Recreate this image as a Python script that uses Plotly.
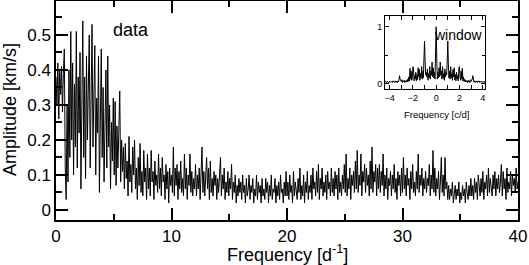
import numpy as np
import plotly.graph_objects as go

# Main amplitude spectrum, sampled every 0.08 d^-1 from 0 to 40
freq_step = 0.08
amplitude = [
    0.38, 0.30, 0.42, 0.26, 0.40, 0.33, 0.41, 0.28, 0.39, 0.46, 0.12, 0.03, 0.30, 0.08, 0.40, 0.15, 0.51, 0.20, 0.42, 0.10, 0.36, 0.18, 0.51, 0.12, 0.38,
    0.22, 0.45, 0.06, 0.30, 0.54, 0.15, 0.38, 0.09, 0.44, 0.20, 0.33, 0.50, 0.12, 0.40, 0.53, 0.18, 0.36, 0.47, 0.10, 0.32, 0.22, 0.44, 0.05, 0.30, 0.46,
    0.15, 0.35, 0.08, 0.28, 0.40, 0.12, 0.44, 0.18, 0.30, 0.06, 0.25, 0.14, 0.32, 0.10, 0.31, 0.07, 0.24, 0.12, 0.22, 0.34, 0.08, 0.20, 0.11, 0.18, 0.06,
    0.19, 0.09, 0.14, 0.04, 0.21, 0.08, 0.13, 0.05, 0.18, 0.10, 0.20, 0.06, 0.12, 0.03, 0.15, 0.07, 0.19, 0.05, 0.11, 0.04, 0.17, 0.08, 0.12, 0.03, 0.16,
    0.06, 0.12, 0.04, 0.17, 0.08, 0.11, 0.03, 0.14, 0.07, 0.10, 0.05, 0.16, 0.06, 0.12, 0.04, 0.15, 0.08, 0.10, 0.03, 0.13, 0.06, 0.11, 0.02, 0.12, 0.07,
    0.10, 0.05, 0.18, 0.04, 0.12, 0.07, 0.13, 0.03, 0.11, 0.06, 0.14, 0.05, 0.09, 0.04, 0.16, 0.06, 0.12, 0.03, 0.10, 0.07, 0.16, 0.05, 0.11, 0.04, 0.09,
    0.06, 0.13, 0.04, 0.10, 0.06, 0.12, 0.03, 0.09, 0.18, 0.05, 0.11, 0.04, 0.10, 0.15, 0.06, 0.12, 0.03, 0.14, 0.05, 0.09, 0.04, 0.11, 0.07, 0.10, 0.03,
    0.09, 0.05, 0.11, 0.15, 0.04, 0.10, 0.06, 0.12, 0.03, 0.08, 0.05, 0.11, 0.04, 0.09, 0.06, 0.13, 0.03, 0.08, 0.05, 0.10, 0.02, 0.07, 0.04, 0.09, 0.05,
    0.08, 0.03, 0.10, 0.05, 0.07, 0.02, 0.09, 0.04, 0.06, 0.10, 0.03, 0.07, 0.05, 0.09, 0.02, 0.06, 0.04, 0.10, 0.03, 0.08, 0.05, 0.07, 0.02, 0.09, 0.04,
    0.06, 0.03, 0.09, 0.05, 0.08, 0.02, 0.07, 0.04, 0.10, 0.03, 0.06, 0.05, 0.09, 0.02, 0.07, 0.04, 0.08, 0.03, 0.10, 0.05, 0.06, 0.02, 0.08, 0.04, 0.11,
    0.04, 0.08, 0.03, 0.10, 0.05, 0.07, 0.02, 0.11, 0.04, 0.08, 0.06, 0.03, 0.09, 0.05, 0.12, 0.03, 0.07, 0.04, 0.10, 0.02, 0.08, 0.05, 0.11, 0.03, 0.07,
    0.05, 0.10, 0.03, 0.12, 0.06, 0.08, 0.04, 0.11, 0.05, 0.13, 0.03, 0.09, 0.06, 0.12, 0.04, 0.08, 0.05, 0.10, 0.03, 0.11, 0.06, 0.08, 0.04, 0.12, 0.05,
    0.09, 0.04, 0.11, 0.06, 0.10, 0.03, 0.12, 0.05, 0.08, 0.04, 0.10, 0.06, 0.13, 0.05, 0.16, 0.04, 0.09, 0.06, 0.12, 0.03, 0.10, 0.07, 0.11, 0.05, 0.14,
    0.06, 0.17, 0.05, 0.10, 0.07, 0.16, 0.04, 0.11, 0.08, 0.13, 0.05, 0.12, 0.07, 0.10, 0.04, 0.14, 0.06, 0.18, 0.05, 0.11, 0.08, 0.13, 0.04, 0.12, 0.06,
    0.13, 0.05, 0.11, 0.07, 0.16, 0.04, 0.10, 0.06, 0.12, 0.03, 0.09, 0.07, 0.11, 0.04, 0.10, 0.06, 0.13, 0.05, 0.09, 0.03, 0.11, 0.07, 0.10, 0.04, 0.12,
    0.05, 0.15, 0.06, 0.10, 0.04, 0.12, 0.07, 0.09, 0.03, 0.11, 0.06, 0.13, 0.05, 0.08, 0.04, 0.11, 0.06, 0.16, 0.05, 0.10, 0.07, 0.12, 0.04, 0.09, 0.06,
    0.11, 0.05, 0.09, 0.07, 0.13, 0.04, 0.10, 0.06, 0.17, 0.05, 0.12, 0.04, 0.09, 0.06, 0.11, 0.03, 0.08, 0.15, 0.05, 0.10, 0.04, 0.15, 0.06, 0.08, 0.03,
    0.07, 0.03, 0.06, 0.04, 0.08, 0.02, 0.05, 0.07, 0.03, 0.06, 0.04, 0.08, 0.02, 0.05, 0.03, 0.07, 0.04, 0.06, 0.02, 0.08, 0.05, 0.03, 0.07, 0.04, 0.09,
    0.04, 0.07, 0.03, 0.09, 0.05, 0.08, 0.03, 0.10, 0.06, 0.04, 0.09, 0.05, 0.11, 0.03, 0.08, 0.06, 0.10, 0.04, 0.12, 0.05, 0.09, 0.07, 0.04, 0.10, 0.06,
    0.11, 0.04, 0.09, 0.06, 0.10, 0.05, 0.08, 0.13, 0.04, 0.11, 0.06, 0.09, 0.03, 0.12, 0.05, 0.08, 0.06, 0.11, 0.04, 0.10, 0.07, 0.09, 0.05, 0.12, 0.06,
    0.08,
]
frequency = np.arange(len(amplitude)) * freq_step

# Spectral window (positive half, 0 .. 4.4 c/d, step 0.05); symmetric about 0
win_step = 0.05
window_half = [
    1.00, 0.45, 0.08, 0.20, 0.10, 0.28, 0.12, 0.38, 0.15, 0.22,
    0.08, 0.30, 0.10, 0.18, 0.06, 0.26, 0.12, 0.20, 0.15, 0.40,
    0.75, 0.35, 0.10, 0.22, 0.08, 0.30, 0.10, 0.18, 0.06, 0.25,
    0.12, 0.28, 0.07, 0.16, 0.05, 0.20, 0.08, 0.14, 0.05, 0.26,
    0.30, 0.12, 0.06, 0.22, 0.08, 0.27, 0.05, 0.12, 0.04, 0.08,
    0.03, 0.06, 0.03, 0.05, 0.02, 0.06, 0.03, 0.05, 0.02, 0.07,
    0.04, 0.06, 0.08, 0.14, 0.06, 0.03, 0.05, 0.02, 0.04, 0.03,
    0.05, 0.02, 0.04, 0.03, 0.05, 0.02, 0.04, 0.03, 0.04, 0.02,
    0.03, 0.04, 0.02, 0.03, 0.04, 0.02, 0.03, 0.04, 0.02,
]
wh = np.array(window_half)
n = len(wh)
win_freq = np.concatenate([-np.arange(n - 1, 0, -1) * win_step, np.arange(n) * win_step])
win_amp = np.concatenate([wh[:0:-1], wh])

main_xticks = [0, 10, 20, 30, 40]
main_yticks = [0, 0.1, 0.2, 0.3, 0.4, 0.5]
main_yticklabels = ["0", "0.1", "0.2", "0.3", "0.4", "0.5"]
inset_xticks = [-4, -2, 0, 2, 4]
inset_yticks = [0, 1]

W, H = 529, 265
L, R, T, B = 56, 518, 1, 220  # main plot frame in pixels
FONT = "Liberation Sans, Arial, Helvetica, sans-serif"

fig = go.Figure()
fig.add_trace(go.Scatter(x=frequency, y=amplitude, mode="lines",
                         line=dict(color="black", width=1), xaxis="x", yaxis="y",
                         showlegend=False, hoverinfo="skip"))
fig.add_trace(go.Scatter(x=win_freq, y=win_amp, mode="lines",
                         line=dict(color="black", width=1), xaxis="x2", yaxis="y2",
                         showlegend=False, hoverinfo="skip"))

def px_x(p):
    return (p - L) / (R - L)

def px_y(p):
    return (B - p) / (B - T)

axis_common = dict(showline=True, linecolor="black", linewidth=1.5, mirror="allticks",
                   ticks="inside", tickcolor="black", showgrid=False, zeroline=False,
                   automargin=False)

fig.update_layout(
    width=W, height=H,
    margin=dict(l=L, r=W - R, t=T, b=H - B, pad=0, autoexpand=False),
    paper_bgcolor="white", plot_bgcolor="white",
    font=dict(family=FONT, color="black"),
    xaxis=dict(domain=[0, 1], range=[0, 40], tickvals=main_xticks,
               ticklen=12, tickwidth=1.5, tickfont=dict(size=17),
               minor=dict(dtick=5, ticklen=6, tickwidth=1.5, ticks="inside", tickcolor="black"),
               anchor="y", **axis_common),
    yaxis=dict(domain=[0, 1], range=[-0.0286, 0.597], tickvals=main_yticks,
               ticktext=main_yticklabels,
               ticklen=12, tickwidth=1.5, tickfont=dict(size=17),
               minor=dict(dtick=0.05, tick0=0, ticklen=6, tickwidth=1.5, ticks="inside", tickcolor="black"),
               anchor="x", **axis_common),
    xaxis2=dict(domain=[px_x(385), px_x(485)], range=[-4.4, 4.2], tickvals=inset_xticks,
                ticklen=4, tickwidth=1, tickfont=dict(size=9),
                minor=dict(dtick=1, tick0=0, ticklen=4, tickwidth=1, ticks="inside", tickcolor="black"),
                anchor="y2", showline=True, linecolor="black", linewidth=1, mirror="allticks",
                ticks="inside", tickcolor="black", showgrid=False, zeroline=False, automargin=False),
    yaxis2=dict(domain=[px_y(89), px_y(16)], range=[-0.093, 1.19], tickvals=inset_yticks,
                ticklen=4, tickwidth=1, tickfont=dict(size=9),
                minor=dict(dtick=0.5, tick0=0, ticklen=3, tickwidth=1, ticks="inside", tickcolor="black"),
                anchor="x2", showline=True, linecolor="black", linewidth=1, mirror="allticks",
                ticks="inside", tickcolor="black", showgrid=False, zeroline=False, automargin=False),
    annotations=[
        dict(text="Amplitude [km/s]", x=px_x(10), y=px_y(110), xref="paper", yref="paper",
             textangle=-90, showarrow=False, font=dict(size=18), xanchor="center", yanchor="middle"),
        dict(text="Frequency [d<sup>-1</sup>]", x=px_x(287), y=px_y(254), xref="paper", yref="paper",
             showarrow=False, font=dict(size=18), xanchor="center", yanchor="middle"),
        dict(text="data", x=px_x(131), y=px_y(30), xref="paper", yref="paper",
             showarrow=False, font=dict(size=18), xanchor="center", yanchor="middle"),
        dict(text="window", x=px_x(485), y=px_y(35), xref="paper", yref="paper",
             showarrow=False, font=dict(size=14), xanchor="right", yanchor="middle"),
        dict(text="Frequency [c/d]", x=px_x(436), y=px_y(114), xref="paper", yref="paper",
             showarrow=False, font=dict(size=9.5), xanchor="center", yanchor="middle"),
    ],
)

fig.write_html("out.html", config={"displayModeBar": False},
               post_script="document.body.style.margin='0';document.body.style.padding='0';")
